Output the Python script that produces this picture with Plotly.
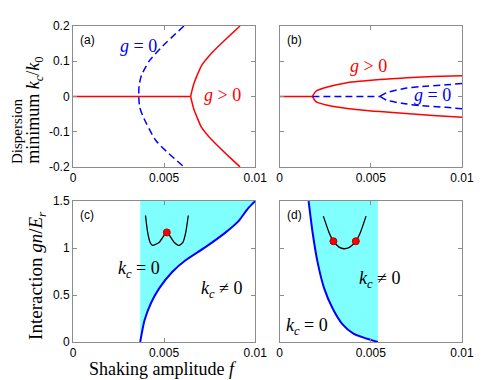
import plotly.graph_objects as go
from plotly.subplots import make_subplots

# ---- data ----
# (a) g>0 (red) branches and g=0 (blue dashed) curve
a_red_flat_f = [0.0, 0.00646]
a_red_f = [0.00646, 0.00654, 0.00664, 0.00681, 0.00705, 0.00763, 0.00836, 0.00917]
a_red_k = [0.0, 0.018, 0.037, 0.059, 0.087, 0.124, 0.161, 0.2]
a_blue_f = [0.00609, 0.00492, 0.00419, 0.00376, 0.00363, 0.00361, 0.00366, 0.00383, 0.00456, 0.00609]
a_blue_k = [0.2, 0.143, 0.101, 0.06, 0.03, 0.0, -0.03, -0.055, -0.126, -0.2]

# (b)
b_red_flat_f = [0.0, 0.0018]
b_red_f = [0.0018, 0.00199, 0.00262, 0.0037, 0.0055, 0.0073, 0.0084, 0.01]
b_red_up = [0.0, 0.0148, 0.0269, 0.039, 0.048, 0.0537, 0.0565, 0.059]
b_red_lo = [0.0, -0.0148, -0.025, -0.034, -0.043, -0.05, -0.054, -0.059]
b_blue_flat_f = [0.0018, 0.0055]
b_blue_f = [0.0055, 0.00588, 0.00678, 0.00769, 0.00913, 0.01]
b_blue_up = [0.0, 0.011, 0.022, 0.028, 0.033, 0.037]
b_blue_lo = [0.0, -0.011, -0.020, -0.026, -0.031, -0.035]

# (c) phase boundary
c_f = [0.00369, 0.00392, 0.00429, 0.00474, 0.00546, 0.00618, 0.00727, 0.0084, 0.0091, 0.0096, 0.01]
c_gn = [0.0, 0.226, 0.418, 0.574, 0.748, 0.87, 1.01, 1.17, 1.29, 1.42, 1.5]
c_edge = 0.00369

# (d) phase boundary
d_f = [0.00159, 0.00181, 0.00208, 0.00244, 0.00289, 0.00344, 0.00407, 0.00539]
d_gn = [1.5, 1.166, 0.853, 0.574, 0.365, 0.191, 0.087, 0.0]
d_edge = 0.00539

# insets (dispersion sketches)
c_well_f = [0.00398, 0.0041, 0.00423, 0.00437, 0.00474, 0.00515, 0.00555, 0.00582, 0.00604, 0.00619, 0.00633]
c_well_y = [1.347, 1.167, 1.063, 1.028, 1.063, 1.167, 1.063, 1.028, 1.063, 1.167, 1.347]
c_dot = ([0.00515], [1.167])
d_well_f = [0.0024, 0.00271, 0.00295, 0.00326, 0.00353, 0.00385, 0.00418, 0.00443, 0.00474]
d_well_y = [1.34, 1.167, 1.073, 1.01, 0.993, 1.01, 1.073, 1.167, 1.34]
d_dots = ([0.00295, 0.00418], [1.073, 1.073])

x_ticks = [0, 0.005, 0.01]
x_ticktext = ["0", "0.005", "0.01"]
top_ticks = [-0.2, -0.1, 0, 0.1, 0.2]
top_ticktext = ["-0.2", "-0.1", "0", "0.1", "0.2"]
bot_ticks = [0, 0.5, 1, 1.5]
bot_ticktext = ["0", "0.5", "1", "1.5"]

RED = "#ff0000"
BLUE = "#0000ff"
CYAN = "#80ffff"

# page body adds an 8px offset, so the figure is a bit smaller than the window
OFF = 8
W, H = 485 - OFF, 380 - OFF
ML, MR, MT, MB = 73 - OFF, 19, 19 - OFF, 38
PW, PH = W - ML - MR, H - MT - MB


def px_x(px):
    # window pixel -> paper x
    return (px - OFF - ML) / PW


def px_y(py):
    # window pixel -> paper y
    return (H - MB - (py - OFF)) / PH


fig = make_subplots(rows=2, cols=2)

def line(x, y, color, width, dash="solid", row=1, col=1, shape="spline"):
    fig.add_trace(go.Scatter(x=x, y=y, mode="lines", line=dict(color=color, width=width, dash=dash, shape=shape,
                                                                smoothing=0.6),
                             showlegend=False, hoverinfo="skip"), row=row, col=col)

# (a)
line(a_red_flat_f, [0, 0], RED, 1.5, shape="linear")
line(a_red_f, a_red_k, RED, 1.5)
line(a_red_f, [-k for k in a_red_k], RED, 1.5)
line(a_blue_f, a_blue_k, BLUE, 1.5, dash="7px,4px")

# (b)
line(b_red_flat_f, [0, 0], RED, 1.5, row=1, col=2, shape="linear")
line(b_red_f, b_red_up, RED, 1.5, row=1, col=2)
line(b_red_f, b_red_lo, RED, 1.5, row=1, col=2)
line(b_blue_flat_f, [0, 0], BLUE, 1.5, dash="7px,4px", row=1, col=2, shape="linear")
line(b_blue_f, b_blue_up, BLUE, 1.5, dash="7px,4px", row=1, col=2)
line(b_blue_f, b_blue_lo, BLUE, 1.5, dash="7px,4px", row=1, col=2)

# (c) shaded k_c = 0 region
fig.add_trace(go.Scatter(x=[c_edge, c_edge] + c_f[::-1], y=[0, 1.5] + c_gn[::-1], mode="lines",
                         fill="toself", fillcolor=CYAN, line=dict(width=0), showlegend=False,
                         hoverinfo="skip"), row=2, col=1)
line(c_f, c_gn, BLUE, 2, row=2, col=1)
line(c_well_f, c_well_y, "black", 1.3, row=2, col=1)
fig.add_trace(go.Scatter(x=c_dot[0], y=c_dot[1], mode="markers",
                         marker=dict(color=RED, size=7, line=dict(color="#b00000", width=1)),
                         showlegend=False, hoverinfo="skip"), row=2, col=1)

# (d)
fig.add_trace(go.Scatter(x=d_f + [d_edge], y=d_gn + [1.5], mode="lines", fill="toself", fillcolor=CYAN,
                         line=dict(width=0), showlegend=False, hoverinfo="skip"), row=2, col=2)
line(d_f, d_gn, BLUE, 2, row=2, col=2)
line(d_well_f, d_well_y, "black", 1.3, row=2, col=2)
fig.add_trace(go.Scatter(x=d_dots[0], y=d_dots[1], mode="markers",
                         marker=dict(color=RED, size=7, line=dict(color="#b00000", width=1)),
                         showlegend=False, hoverinfo="skip"), row=2, col=2)

axis_style = dict(showline=True, linecolor="#8c8c8c", linewidth=1, mirror="ticks", ticks="inside",
                  ticklen=4, tickcolor="#8c8c8c", showgrid=False, zeroline=False,
                  tickfont=dict(family="Liberation Sans, Arial", size=12, color="black"))

xa_dom = [0, px_x(257)]
xb_dom = [px_x(281.7), 1]
top_dom = [px_y(163), 1]
bot_dom = [0, px_y(198)]

fig.update_layout(
    xaxis=dict(domain=xa_dom, range=[0, 0.01], tickvals=x_ticks, ticktext=x_ticktext, **axis_style),
    xaxis2=dict(domain=xb_dom, range=[0, 0.01], tickvals=x_ticks, ticktext=x_ticktext, **axis_style),
    xaxis3=dict(domain=xa_dom, range=[0, 0.01], tickvals=x_ticks, ticktext=x_ticktext, **axis_style),
    xaxis4=dict(domain=xb_dom, range=[0, 0.01], tickvals=x_ticks, ticktext=x_ticktext, **axis_style),
    yaxis=dict(domain=top_dom, range=[-0.2, 0.2], tickvals=top_ticks, ticktext=top_ticktext, **axis_style),
    yaxis2=dict(domain=top_dom, range=[-0.2, 0.2], tickvals=top_ticks, showticklabels=False, **axis_style),
    yaxis3=dict(domain=bot_dom, range=[0, 1.5], tickvals=bot_ticks, ticktext=bot_ticktext, **axis_style),
    yaxis4=dict(domain=bot_dom, range=[0, 1.5], tickvals=bot_ticks, showticklabels=False, **axis_style),
)

serif = "Liberation Serif, Times New Roman, serif"
ann = []

# panel tags
for tag, xr, yr in [("(a)", "x", "y"), ("(b)", "x2", "y2"), ("(c)", "x3", "y3"), ("(d)", "x4", "y4")]:
    ann.append(dict(text=tag, xref=xr + " domain", yref=yr + " domain", x=0.027, y=0.9,
                    xanchor="left", yanchor="middle", showarrow=False,
                    font=dict(family="Liberation Sans, Arial", size=12, color="black")))

def label(text, xr, yr, x, y, color, size=18):
    ann.append(dict(text=text, xref=xr, yref=yr, x=x, y=y, showarrow=False, xanchor="center",
                    yanchor="middle", font=dict(family=serif, size=size, color=color)))

label("<i>g</i> = 0", "x", "y", 0.00357, 0.143, BLUE)
label("<i>g</i> > 0", "x", "y", 0.00821, 0.005, RED)
label("<i>g</i> > 0", "x2", "y2", 0.00485, 0.087, RED)
label("<i>g</i> = 0", "x2", "y2", 0.0084, 0.005, BLUE)
label("<i>k<sub>c</sub></i> = 0", "x3", "y3", 0.00362, 0.77, "black")
label("<i>k<sub>c</sub></i> ≠ 0", "x3", "y3", 0.00813, 0.56, "black")
label("<i>k<sub>c</sub></i> ≠ 0", "x4", "y4", 0.00547, 0.67, "black")
label("<i>k<sub>c</sub></i> = 0", "x4", "y4", 0.00151, 0.17, "black")

# axis titles
ann.append(dict(text="Dispersion", xref="paper", yref="paper", x=px_x(17), y=px_y(162),
                textangle=-90, xanchor="center", yanchor="bottom", showarrow=False,
                font=dict(family=serif, size=15, color="black")))
ann.append(dict(text="minimum <i>k<sub>c</sub></i>/<i>k</i><sub>0</sub>", xref="paper", yref="paper",
                x=px_x(34), y=px_y(162), textangle=-90, xanchor="center", yanchor="bottom",
                showarrow=False, font=dict(family=serif, size=18, color="black")))
ann.append(dict(text="Interaction <i>gn</i>/<i>E<sub>r</sub></i>", xref="paper", yref="paper",
                x=px_x(36), y=px_y(342), textangle=-90, xanchor="center", yanchor="bottom",
                showarrow=False, font=dict(family=serif, size=19, color="black")))
ann.append(dict(text="Shaking amplitude <i>f</i>", xref="paper", yref="paper",
                x=px_x(164), y=px_y(370), xanchor="center", yanchor="middle", showarrow=False,
                font=dict(family=serif, size=18, color="black")))

fig.update_layout(
    annotations=ann,
    width=W, height=H,
    margin=dict(l=ML, r=MR, t=MT, b=MB),
    paper_bgcolor="white", plot_bgcolor="white",
    showlegend=False,
)

fig.write_html("out.html")
